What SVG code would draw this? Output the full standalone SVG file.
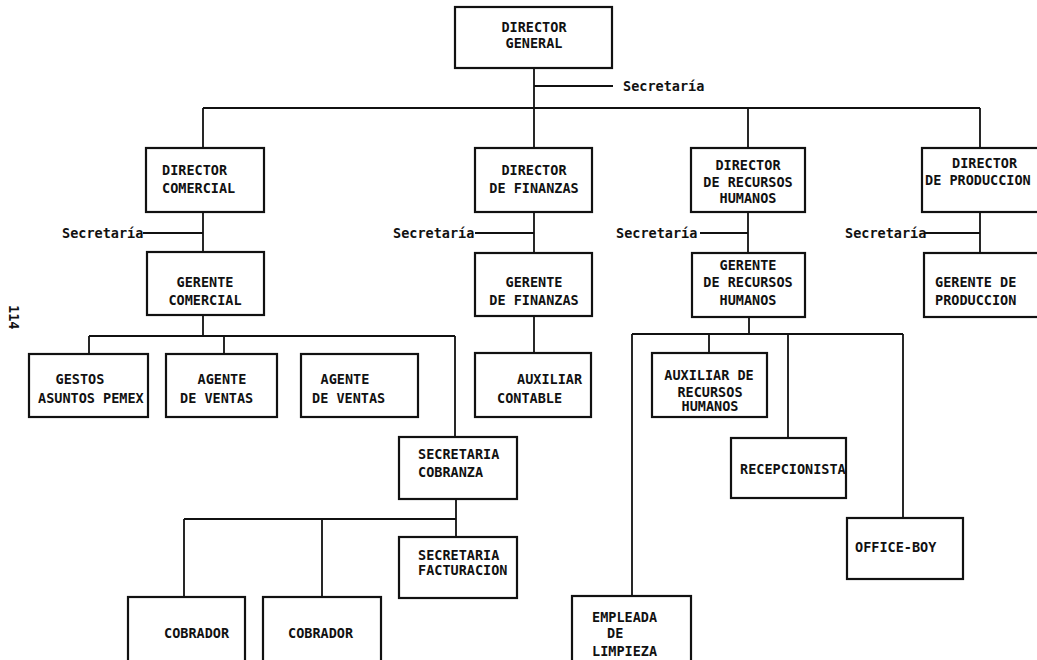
<svg xmlns="http://www.w3.org/2000/svg" width="1037" height="660" viewBox="0 0 1037 660">
<style>
rect{fill:none;stroke:#111;stroke-width:2.2}
text{font-family:"DejaVu Sans Mono","Liberation Mono",monospace;font-weight:bold;font-size:13.5px;fill:#111}
.c{text-anchor:middle}
#connectors path{fill:none;stroke:#111;stroke-width:1.8}
</style>
<rect x="0" y="0" width="1037" height="660" style="fill:#fff;stroke:none"/>
<g id="connectors">
<path d="M534 68V148M534 86H613M203 108H980M203 108V148M748 108V148M980 108V148"/>
<path d="M203 212V252M143 233H203M534 212V253M475 233H534M748 212V253M700 233H748M980 212V253M924 233H980"/>
<path d="M203 315V336M89 336H455M89 336V354M224 336V354M455 336V437"/>
<path d="M534 316V353"/>
<path d="M749 317V334M632 334H903M632 334V596M709 334V353M788 334V438M903 334V518"/>
<path d="M456 499V537M184 519H456M184 519V597M322 519V597"/>
</g>
<g id="dir-general"><rect x="455" y="7" width="157" height="61"/><text class="c" x="534" y="32">DIRECTOR</text><text class="c" x="534" y="48">GENERAL</text></g>
<g id="sec-general"><text x="623" y="91">Secretaría</text></g>
<g id="dir-comercial"><rect x="146" y="148" width="118" height="64"/><text x="162" y="175">DIRECTOR</text><text x="162" y="193">COMERCIAL</text></g>
<g id="dir-finanzas"><rect x="475" y="148" width="117" height="64"/><text class="c" x="534" y="175">DIRECTOR</text><text class="c" x="534" y="193">DE FINANZAS</text></g>
<g id="dir-rrhh"><rect x="691" y="148" width="114" height="64"/><text class="c" x="748" y="170">DIRECTOR</text><text class="c" x="748" y="187">DE RECURSOS</text><text class="c" x="748" y="203">HUMANOS</text></g>
<g id="dir-produccion"><rect x="922" y="148" width="130" height="64"/><text x="952" y="168">DIRECTOR</text><text x="925" y="185">DE PRODUCCION</text></g>
<g id="sec-comercial"><text x="62" y="238">Secretaría</text></g>
<g id="sec-finanzas"><text x="393" y="238">Secretaría</text></g>
<g id="sec-rrhh"><text x="616" y="238">Secretaría</text></g>
<g id="sec-produccion"><text x="845" y="238">Secretaría</text></g>
<g id="ger-comercial"><rect x="147" y="252" width="117" height="63"/><text class="c" x="205" y="287">GERENTE</text><text class="c" x="205" y="305">COMERCIAL</text></g>
<g id="ger-finanzas"><rect x="475" y="253" width="117" height="63"/><text class="c" x="534" y="287">GERENTE</text><text class="c" x="534" y="305">DE FINANZAS</text></g>
<g id="ger-rrhh"><rect x="692" y="253" width="113" height="64"/><text class="c" x="748" y="270">GERENTE</text><text class="c" x="748" y="287">DE RECURSOS</text><text class="c" x="748" y="305">HUMANOS</text></g>
<g id="ger-produccion"><rect x="924" y="253" width="128" height="64"/><text x="935" y="287">GERENTE DE</text><text x="935" y="305">PRODUCCION</text></g>
<g id="gestos"><rect x="29" y="354" width="119" height="63"/><text class="c" x="80" y="384">GESTOS</text><text x="38" y="403">ASUNTOS PEMEX</text></g>
<g id="agente1"><rect x="166" y="354" width="111" height="63"/><text class="c" x="222" y="384">AGENTE</text><text x="180" y="403">DE VENTAS</text></g>
<g id="agente2"><rect x="301" y="354" width="117" height="63"/><text class="c" x="345" y="384">AGENTE</text><text x="312" y="403">DE VENTAS</text></g>
<g id="aux-contable"><rect x="475" y="353" width="116" height="64"/><text x="517" y="384">AUXILIAR</text><text x="497" y="403">CONTABLE</text></g>
<g id="aux-rrhh"><rect x="652" y="353" width="115" height="64"/><text class="c" x="709" y="380">AUXILIAR DE</text><text class="c" x="710" y="397">RECURSOS</text><text class="c" x="710" y="411">HUMANOS</text></g>
<g id="sec-cobranza"><rect x="399" y="437" width="118" height="62"/><text x="418" y="459">SECRETARIA</text><text x="418" y="477">COBRANZA</text></g>
<g id="recepcionista"><rect x="731" y="438" width="115" height="60"/><text x="740" y="474">RECEPCIONISTA</text></g>
<g id="sec-facturacion"><rect x="399" y="537" width="118" height="61"/><text x="418" y="560">SECRETARIA</text><text x="418" y="575">FACTURACION</text></g>
<g id="office-boy"><rect x="847" y="518" width="116" height="61"/><text x="855" y="552">OFFICE-BOY</text></g>
<g id="cobrador1"><rect x="128" y="597" width="117" height="80"/><text x="164" y="638">COBRADOR</text></g>
<g id="cobrador2"><rect x="263" y="597" width="118" height="80"/><text x="288" y="638">COBRADOR</text></g>
<g id="empleada"><rect x="572" y="596" width="119" height="80"/><text x="592" y="622">EMPLEADA</text><text x="607" y="638">DE</text><text x="592" y="656">LIMPIEZA</text></g>
<g id="page-number"><text transform="translate(9,305) rotate(90)">114</text></g>
</svg>
